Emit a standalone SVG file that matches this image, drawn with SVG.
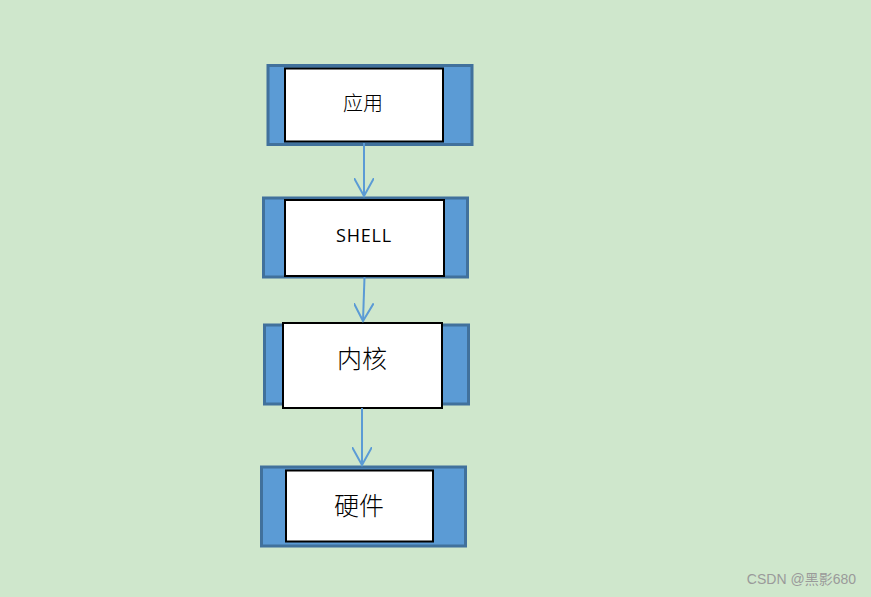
<svg xmlns="http://www.w3.org/2000/svg" width="871" height="597" viewBox="0 0 871 597">
<style>
.outer{fill:#5B9BD5;stroke:#41719C;stroke-width:3}
.inner{fill:#FFFFFF;stroke:#000000;stroke-width:2}
.lbl{font-family:"Noto Sans CJK SC","Noto Sans",sans-serif;fill:#000;text-anchor:middle;dominant-baseline:central;font-weight:300}
.conn{stroke:#5B9BD5;stroke-width:2;fill:none}
</style>
<defs>
<marker id="arr" viewBox="0 0 20 20" refX="18" refY="10" markerWidth="20" markerHeight="20" markerUnits="userSpaceOnUse" orient="auto">
<path d="M0,0 L18,10 L0,20" fill="none" stroke="#5B9BD5" stroke-width="2"/>
</marker>
</defs>
<rect width="871" height="597" fill="#CFE7CC"/>
<g id="node-app">
<rect class="outer" x="268" y="65.5" width="204" height="79"/>
<rect class="inner" x="285" y="68.5" width="158" height="73"/>
<text class="lbl" x="363" y="102" font-size="20">应用</text>
</g>
<g id="node-shell">
<rect class="outer" x="263.5" y="198" width="204" height="79"/>
<rect class="inner" x="285" y="200" width="159" height="76"/>
<text x="364" y="242" font-size="18" font-family="'Open Sans',sans-serif" letter-spacing="0.8" text-anchor="middle" fill="#000">SHELL</text>
</g>
<g id="node-kernel">
<rect class="outer" x="264.5" y="325" width="204" height="79"/>
<rect class="inner" x="283" y="323" width="159" height="85"/>
<text class="lbl" x="362" y="357" font-size="25">内核</text>
</g>
<g id="node-hw">
<rect class="outer" x="261.5" y="467" width="204" height="79"/>
<rect class="inner" x="286" y="470.5" width="147" height="71"/>
<text class="lbl" x="359" y="504" font-size="25">硬件</text>
</g>
<g id="connectors">
<line class="conn" x1="364" y1="143" x2="364" y2="196" marker-end="url(#arr)"/>
<line class="conn" x1="364.5" y1="277" x2="363" y2="321" marker-end="url(#arr)"/>
<line class="conn" x1="362" y1="408" x2="362" y2="465" marker-end="url(#arr)"/>
</g>
<text x="856" y="584" font-family="'Liberation Sans','Noto Sans CJK SC',sans-serif" font-size="14" fill="#9A9A9A" text-anchor="end">CSDN @黑影680</text>
</svg>
